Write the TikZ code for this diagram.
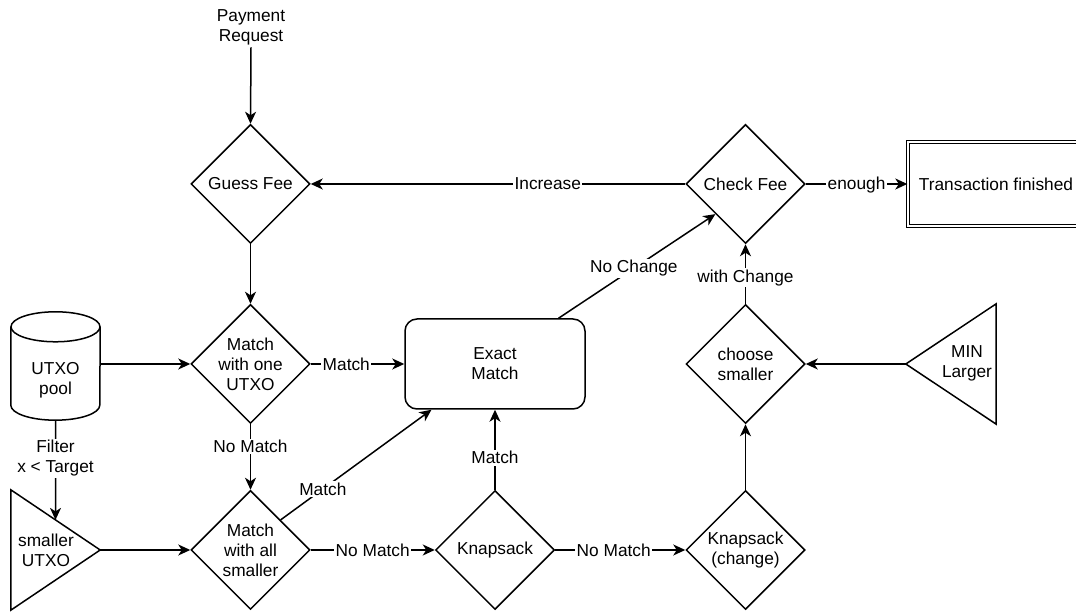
\documentclass[tikz,border=0pt]{standalone}
\usepackage{fontspec}
\setmainfont{Liberation Sans}
\usetikzlibrary{shapes.geometric,arrows.meta,calc}
\begin{document}
\begin{tikzpicture}[x=1pt,y=1pt,
  every node/.style={font=\fontsize{17.3}{20}\selectfont},
  line/.style={line width=1.5pt},
  arr/.style={line, -{Stealth[length=12pt,width=11pt,inset=3.5pt]}},
  dia/.style={diamond, draw, line width=1.5pt, minimum width=119pt, minimum height=119pt, inner sep=0pt, aspect=1},
  txt/.style={align=center, inner sep=0pt},
  lbl/.style={fill=white, inner sep=1.5pt, align=center},
  ghost/.style={rectangle, inner sep=0pt}]
\useasboundingbox (0,0) rectangle (1076,612);

% text source
\node[txt, inner sep=2pt] (pr) at (251,584.5) {Payment\\Request};

% diamonds
\node[dia] (gf) at (250.5,428) {};
\node[txt] (gft) at (gf) {Guess Fee};
\node[dia] (cf) at (745.5,428) {};
\node[txt] (cft) at (cf) {Check Fee};
\node[dia] (m1) at (250.5,248) {};
\node[txt] (m1t) at (m1) {Match\\with one\\UTXO};
\node[dia] (ma) at (250.5,62) {};
\node[txt] (mat) at (ma) {Match\\with all\\smaller};
\node[dia] (ks) at (495,62) {};
\node[txt] (kst) at (ks) {Knapsack};
\node[dia] (kc) at (745.5,62) {};
\node[txt] (kct) at (kc) {Knapsack\\(change)};
\node[dia] (cs) at (745.5,248) {};
\node[txt] (cst) at (cs) {choose\\smaller};

% rectangles
\node[draw, line, rounded corners=12pt, minimum width=180pt, minimum height=90pt, align=center] (em) at (495,248) {Exact\\Match};
\node[draw, line width=1.4pt, double, double distance=1.8pt, minimum width=176pt, minimum height=84pt] (tf) at (996,428) {Transaction finished};

% cylinder
\node[ghost, minimum width=89pt, minimum height=108pt] (pool) at (55.5,246) {};
\draw[line] ($(pool.north)+(0,-15)$) ellipse[x radius=44.5, y radius=15];
\draw[line] ($(pool.north west)+(0,-15)$) -- ($(pool.south west)+(0,15)$)
  arc[start angle=180, end angle=360, x radius=44.5, y radius=15]
  -- ($(pool.north east)+(0,-15)$);
\node[txt] (poolt) at (55.5,232) {UTXO\\pool};

% triangles
\node[ghost, minimum width=89pt, minimum height=120pt] (su) at (55.5,62) {};
\draw[line] (su.north west) -- (su.east) -- (su.south west) -- cycle;
\node[txt] (sut) at (46,62) {smaller\\UTXO};
\node[ghost, minimum width=90pt, minimum height=120pt] (ml) at (951,248) {};
\draw[line] (ml.north east) -- (ml.west) -- (ml.south east) -- cycle;
\node[txt] (mlt) at (967,249) {MIN\\Larger};

% connectors
\draw[arr] (pr.south) -- (gf.north);
\draw[arr] (gf.south) -- (m1.north);
\draw[arr] (cf.west) -- node[lbl, pos=0.367] {Increase} (gf.east);
\draw[arr] (cf.east) -- node[lbl, yshift=-1pt] {enough} (tf.west);
\draw[arr] (pool.east |- m1.west) -- (m1.west);
\draw[arr] (pool.south) -- node[lbl, pos=0.38] {Filter\\x < Target} ($(su.north west)!0.5!(su.east)$);
\draw[arr] (su.east) -- (ma.west);
\draw[arr] (m1.east) -- node[lbl, pos=0.38] {Match} (em.west);
\draw[arr] (m1.south) -- node[lbl, pos=0.34] {No Match} (ma.north);
\draw[arr] (ma.east) -- node[lbl] {No Match} (ks.west);
\draw[arr] (ma.north east) -- node[lbl, pos=0.28] {Match} ($(em.south west)!0.15!(em.south east)$);
\draw[arr] (ks.north) -- node[lbl, pos=0.4] {Match} (em.south);
\draw[arr] (ks.east) -- node[lbl, pos=0.45] {No Match} (kc.west);
\draw[arr] (kc.north) -- (cs.south);
\draw[arr] (ml.west) -- (cs.east);
\draw[arr] (cs.north) -- node[lbl, pos=0.44] {with Change} (cf.south);
\draw[arr] ($(em.north west)!0.85!(em.north east)$) -- node[lbl, pos=0.48] {No Change} (cf.south west);
\end{tikzpicture}
\end{document}
